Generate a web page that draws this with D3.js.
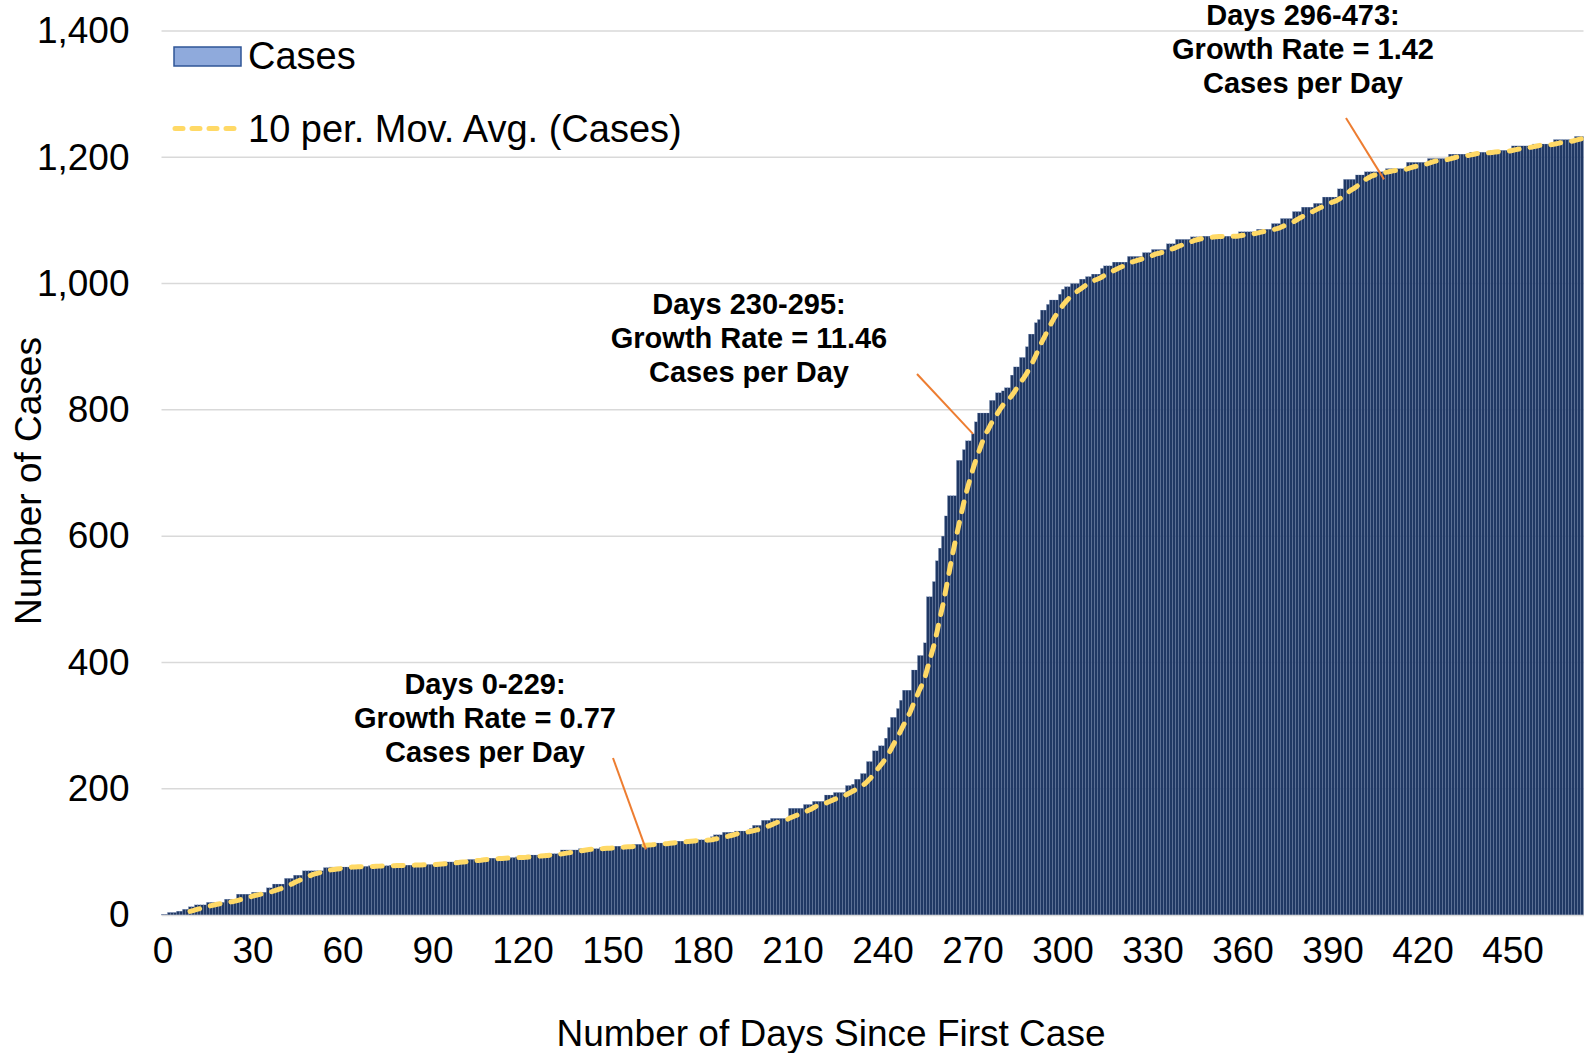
<!DOCTYPE html>
<html>
<head>
<meta charset="utf-8">
<script src="https://cdn.jsdelivr.net/npm/d3@7"></script>
<style>
  body { margin: 0; background: #fff; }
  svg { display: block; font-family: "Liberation Sans", Arial, sans-serif; }
</style>
</head>
<body>
<svg id="chart"></svg>
<script>
// cumulative cases per day, day 0 .. 473
const cases = [
  1,1,4,4,4,6,6,9,9,13,
  13,16,16,16,16,20,20,20,20,20,
  20,25,25,25,25,33,33,33,33,33,
  36,36,36,36,36,43,43,49,49,49,
  49,58,58,58,63,63,63,70,70,70,
  70,70,70,70,75,75,76,76,76,76,
  76,76,76,77,77,77,77,77,77,78,
  78,78,78,78,78,78,79,79,79,79,
  79,79,79,79,80,80,80,80,80,80,
  80,82,82,82,84,84,84,84,86,86,
  86,86,88,88,88,88,88,90,90,90,
  90,90,91,91,91,91,91,91,92,92,
  92,92,95,95,95,95,95,95,97,97,
  97,97,97,103,103,103,103,103,103,105,
  105,105,105,105,105,105,107,107,107,107,
  107,109,109,109,109,109,109,112,112,112,
  112,112,112,112,114,114,114,114,114,117,
  117,117,117,117,117,119,119,119,119,119,
  119,119,119,124,127,127,127,131,131,131,
  131,133,133,133,133,133,137,142,142,142,
  150,150,150,153,153,153,153,153,153,169,
  169,169,169,169,175,175,175,180,180,180,
  180,190,190,190,194,194,194,194,205,205,
  207,215,215,224,224,243,243,260,260,268,
  268,280,297,313,313,327,340,356,356,356,
  388,388,411,411,431,504,504,528,561,581,
  600,632,664,664,664,720,720,737,751,751,
  762,781,795,795,795,795,815,815,827,827,
  830,835,835,855,868,868,883,883,900,920,
  920,938,943,958,958,967,974,974,974,983,
  991,995,995,1000,1000,1000,1007,1007,1011,1011,
  1015,1015,1015,1024,1028,1028,1028,1034,1034,1034,
  1034,1034,1043,1043,1043,1043,1043,1049,1049,1049,
  1054,1054,1054,1054,1054,1063,1063,1063,1070,1070,
  1070,1070,1070,1074,1074,1074,1074,1075,1075,1075,
  1075,1075,1075,1075,1075,1075,1075,1075,1075,1082,
  1082,1082,1082,1082,1082,1086,1086,1086,1086,1086,
  1095,1095,1095,1103,1103,1103,1103,1114,1114,1114,
  1121,1121,1121,1121,1127,1127,1127,1137,1137,1137,
  1137,1137,1150,1150,1165,1165,1165,1165,1172,1172,
  1172,1177,1177,1177,1177,1177,1177,1177,1182,1182,
  1182,1182,1182,1182,1182,1192,1192,1192,1192,1192,
  1192,1192,1198,1198,1198,1198,1198,1198,1198,1205,
  1205,1205,1205,1205,1205,1205,1208,1208,1208,1208,
  1208,1208,1208,1211,1211,1211,1211,1211,1211,1211,
  1218,1218,1218,1218,1218,1218,1218,1221,1221,1221,
  1221,1221,1221,1221,1228,1228,1228,1228,1228,1228,
  1228,1233,1233,1233
];
const days = cases.map((d, i) => i);
const xTicks = [0, 30, 60, 90, 120, 150, 180, 210, 240, 270, 300, 330, 360, 390, 420, 450];
const yTicks = [0, 200, 400, 600, 800, 1000, 1200, 1400];
const maPeriod = 10;

// annotation texts and the day/value each leader line points at
const noteLines = [
  ["Days 0-229:", "Growth Rate = 0.77", "Cases per Day"],
  ["Days 230-295:", "Growth Rate = 11.46", "Cases per Day"],
  ["Days 296-473:", "Growth Rate = 1.42", "Cases per Day"]
];
const noteDay = [161, 270, 407];
const noteValue = [104, 762, 1165];

const width = 1585;
const height = 1053;
const marginTop = 31;
const marginRight = 1.5;
const marginBottom = 138;
const marginLeft = 161.5;

const svg = d3.select("#chart")
    .attr("width", width)
    .attr("height", height)
    .attr("viewBox", [0, 0, width, height]);

const x = d3.scaleBand()
    .domain(days)
    .range([marginLeft, width - marginRight])
    .padding(0);
const y = d3.scaleLinear()
    .domain([0, 1400])
    .range([height - marginBottom, marginTop]);

// grid
svg.append("g")
    .selectAll("line")
    .data(yTicks)
    .join("line")
    .attr("x1", marginLeft)
    .attr("x2", width - marginRight)
    .attr("y1", d => y(d))
    .attr("y2", d => y(d))
    .attr("stroke", "#d9d9d9")
    .attr("stroke-width", 1.5);

// y axis labels
svg.append("g")
    .attr("transform", `translate(${marginLeft - 32},0)`)
    .call(d3.axisLeft(y).tickValues(yTicks).tickFormat(d3.format(",")).tickSize(0).tickPadding(0))
    .call(g => g.select(".domain").remove())
    .call(g => g.selectAll("text")
        .attr("font-size", 37)
        .attr("font-family", "Liberation Sans, Arial, sans-serif")
        .attr("fill", "#000"));

// bars
svg.append("g")
    .selectAll("rect")
    .data(cases)
    .join("rect")
    .attr("x", (d, i) => x(i))
    .attr("y", d => y(d))
    .attr("width", x.bandwidth())
    .attr("height", d => y(0) - y(d))
    .attr("fill", "#203864")
    .attr("stroke", "#7890bf")
    .attr("stroke-width", 0.2);

// x axis
svg.append("g")
    .attr("transform", `translate(0,${y(0)})`)
    .call(d3.axisBottom(x).tickValues(xTicks).tickSize(0).tickPadding(22))
    .call(g => g.select(".domain").attr("stroke", "#d9d9d9").attr("stroke-width", 1.5))
    .call(g => g.selectAll("text")
        .attr("font-size", 37)
        .attr("font-family", "Liberation Sans, Arial, sans-serif")
        .attr("fill", "#000"));

// moving average, trailing 10 periods like the spreadsheet trendline
const ma = cases.map((d, i) => i < maPeriod - 1 ? null : d3.mean(cases.slice(i - maPeriod + 1, i + 1)));
const line = d3.line()
    .defined(d => d != null)
    .x((d, i) => x(i) + x.bandwidth() / 2)
    .y(d => y(d));
svg.append("path")
    .attr("fill", "none")
    .attr("stroke", "#ffd966")
    .attr("stroke-width", 5)
    .attr("stroke-linecap", "round")
    .attr("stroke-dasharray", "10,11")
    .attr("d", line(ma));

// annotations
const noteX = [485, 749, 1303];
const noteY = [694, 314, 25];
const noteStart = [[613, 758], [917, 374], [1346, 118]];
noteLines.forEach((lines, k) => {
  svg.append("line")
      .attr("x1", noteStart[k][0])
      .attr("y1", noteStart[k][1])
      .attr("x2", x(noteDay[k]) + x.bandwidth() / 2)
      .attr("y2", y(noteValue[k]))
      .attr("stroke", "#ed7d31")
      .attr("stroke-width", 2);
  svg.append("text")
      .attr("x", noteX[k])
      .attr("y", noteY[k])
      .attr("text-anchor", "middle")
      .attr("font-size", 29)
      .attr("font-weight", "bold")
      .selectAll("tspan")
      .data(lines)
      .join("tspan")
      .attr("x", noteX[k])
      .attr("dy", (d, i) => i === 0 ? 0 : 33.8)
      .text(d => d);
});

// legend
svg.append("rect")
    .attr("x", 174)
    .attr("y", 47)
    .attr("width", 67)
    .attr("height", 19)
    .attr("fill", "#8faadc")
    .attr("stroke", "#2f5597")
    .attr("stroke-width", 1.5);
svg.append("text")
    .attr("x", 248)
    .attr("y", 68.5)
    .attr("font-size", 38)
    .text("Cases");
svg.append("line")
    .attr("x1", 175)
    .attr("x2", 241)
    .attr("y1", 128.5)
    .attr("y2", 128.5)
    .attr("stroke", "#ffd966")
    .attr("stroke-width", 5)
    .attr("stroke-linecap", "round")
    .attr("stroke-dasharray", "8,9");
svg.append("text")
    .attr("x", 248)
    .attr("y", 141.5)
    .attr("font-size", 38)
    .text("10 per. Mov. Avg. (Cases)");

// axis titles
svg.append("text")
    .attr("x", 831)
    .attr("y", 1046)
    .attr("text-anchor", "middle")
    .attr("font-size", 37)
    .text("Number of Days Since First Case");
svg.append("text")
    .attr("transform", "translate(41,481) rotate(-90)")
    .attr("text-anchor", "middle")
    .attr("font-size", 37)
    .text("Number of Cases");
</script>
</body>
</html>
